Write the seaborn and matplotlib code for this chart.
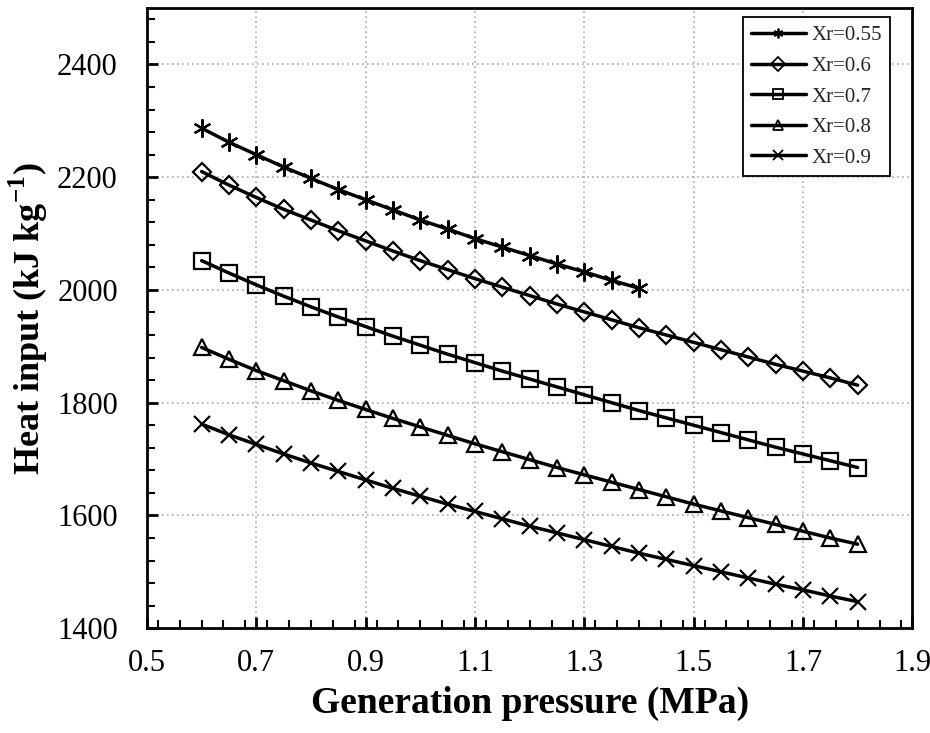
import numpy as np
import pandas as pd
import matplotlib
matplotlib.use("Agg")
import matplotlib.pyplot as plt
from matplotlib.lines import Line2D
import seaborn as sns
from matplotlib.ticker import MultipleLocator, FixedLocator

sns.set_theme(style="ticks")
plt.rcParams['font.family'] = ['Liberation Serif', 'DejaVu Serif']
plt.rcParams['mathtext.fontset'] = 'custom'
plt.rcParams['mathtext.rm'] = 'Liberation Serif'
plt.rcParams['mathtext.bf'] = 'Liberation Serif:bold'

pressure_short = [0.6, 0.65, 0.7, 0.75, 0.8, 0.85, 0.9, 0.95, 1.0, 1.05, 1.1,
                  1.15, 1.2, 1.25, 1.3, 1.35, 1.4]
pressure_full = [0.6, 0.65, 0.7, 0.75, 0.8, 0.85, 0.9, 0.95, 1.0, 1.05, 1.1,
                 1.15, 1.2, 1.25, 1.3, 1.35, 1.4, 1.45, 1.5, 1.55, 1.6, 1.65,
                 1.7, 1.75, 1.8]

heat_055 = [2287, 2262, 2240, 2218, 2198, 2178, 2160, 2142, 2124, 2108, 2091,
            2076, 2061, 2046, 2032, 2017, 2003]
heat_06 = [2210, 2186, 2164, 2143, 2124, 2105, 2087, 2069, 2052, 2036, 2020,
           2005, 1990, 1975, 1961, 1947, 1933, 1920, 1907, 1894, 1881, 1868,
           1856, 1844, 1831]
heat_07 = [2052, 2030, 2009, 1989, 1970, 1952, 1935, 1918, 1902, 1886, 1871,
           1856, 1842, 1828, 1814, 1800, 1786, 1773, 1760, 1747, 1734, 1721,
           1709, 1697, 1685]
heat_08 = [1898, 1877, 1857, 1839, 1821, 1804, 1788, 1772, 1757, 1742, 1727,
           1713, 1699, 1685, 1672, 1659, 1646, 1633, 1620, 1608, 1596, 1584,
           1572, 1560, 1549]
heat_09 = [1762, 1743, 1726, 1709, 1693, 1678, 1663, 1648, 1634, 1620, 1607,
           1594, 1581, 1569, 1557, 1545, 1533, 1522, 1511, 1500, 1489, 1478,
           1468, 1457, 1447]

labels = ["Xr=0.55", "Xr=0.6", "Xr=0.7", "Xr=0.8", "Xr=0.9"]
series = [(pressure_short, heat_055), (pressure_full, heat_06),
          (pressure_full, heat_07), (pressure_full, heat_08),
          (pressure_full, heat_09)]
markers = [(6, 2, 0), "D", "s", "^", "x"]
msizes = [13, 9, 12, 11, 12]

fig = plt.figure(figsize=(9.3, 7.33), dpi=100)
ax = fig.add_axes([0.158, 0.143, 0.823, 0.846])

for lab, (xs, ys), mk, ms in zip(labels, series, markers, msizes):
    df = pd.DataFrame({"x": xs, "y": ys})
    sns.lineplot(data=df, x="x", y="y", ax=ax, color="black", linewidth=2.5,
                 marker=mk, markersize=ms, markerfacecolor="none",
                 markeredgecolor="black", markeredgewidth=1.6, legend=False)

ax.set_xlim(0.5, 1.9)
ax.set_ylim(1400, 2500)
xt = np.round(np.arange(0.5, 1.91, 0.2), 2)
ax.xaxis.set_major_locator(FixedLocator(xt))
ax.xaxis.set_minor_locator(MultipleLocator(0.04))
ax.yaxis.set_major_locator(FixedLocator(np.arange(1400, 2401, 200)))
ax.yaxis.set_minor_locator(MultipleLocator(40))
ax.set_xticklabels([f"{v:.1f}" for v in xt])

for gx in [0.7, 0.9, 1.1, 1.3, 1.5, 1.7]:
    ax.axvline(gx, color="#aaaaaa", linestyle=(0, (1, 2)), linewidth=1.2, zorder=0)
for gy in [1600, 1800, 2000, 2200, 2400]:
    ax.axhline(gy, color="#aaaaaa", linestyle=(0, (1, 2)), linewidth=1.2, zorder=0)

ax.tick_params(axis="both", which="major", direction="in", length=8, width=2,
               labelsize=22, color="black", labelcolor="black")
ax.tick_params(axis="x", which="major", pad=15)
ax.tick_params(axis="y", which="major", pad=21)
ax.tick_params(axis="both", which="minor", direction="in", length=6, width=1.5,
               color="black")
for sp in ax.spines.values():
    sp.set_color("black")
    sp.set_linewidth(2)

ax.set_xlabel("Generation pressure (MPa)", fontsize=27, fontweight="bold",
              color="black", labelpad=6)
ax.set_ylabel(r"Heat input (kJ kg$^{\mathbf{-1}}$)", fontsize=26,
              fontweight="bold", color="black", labelpad=5)

handles = [Line2D([], [], color="black", linewidth=2.5, marker=mk,
                  markersize=7, markerfacecolor="none",
                  markeredgecolor="black", markeredgewidth=1.3)
           for mk in markers]
leg = ax.legend(handles, labels, loc="upper right", fontsize=15, frameon=True,
                fancybox=False, edgecolor="black", framealpha=1,
                handlelength=2.65, borderpad=0.4, labelspacing=0.53,
                handletextpad=0.25, borderaxespad=0.0,
                bbox_to_anchor=(0.971, 0.985))
leg.get_frame().set_linewidth(1.3)

fig.savefig("out.png", dpi=100)
